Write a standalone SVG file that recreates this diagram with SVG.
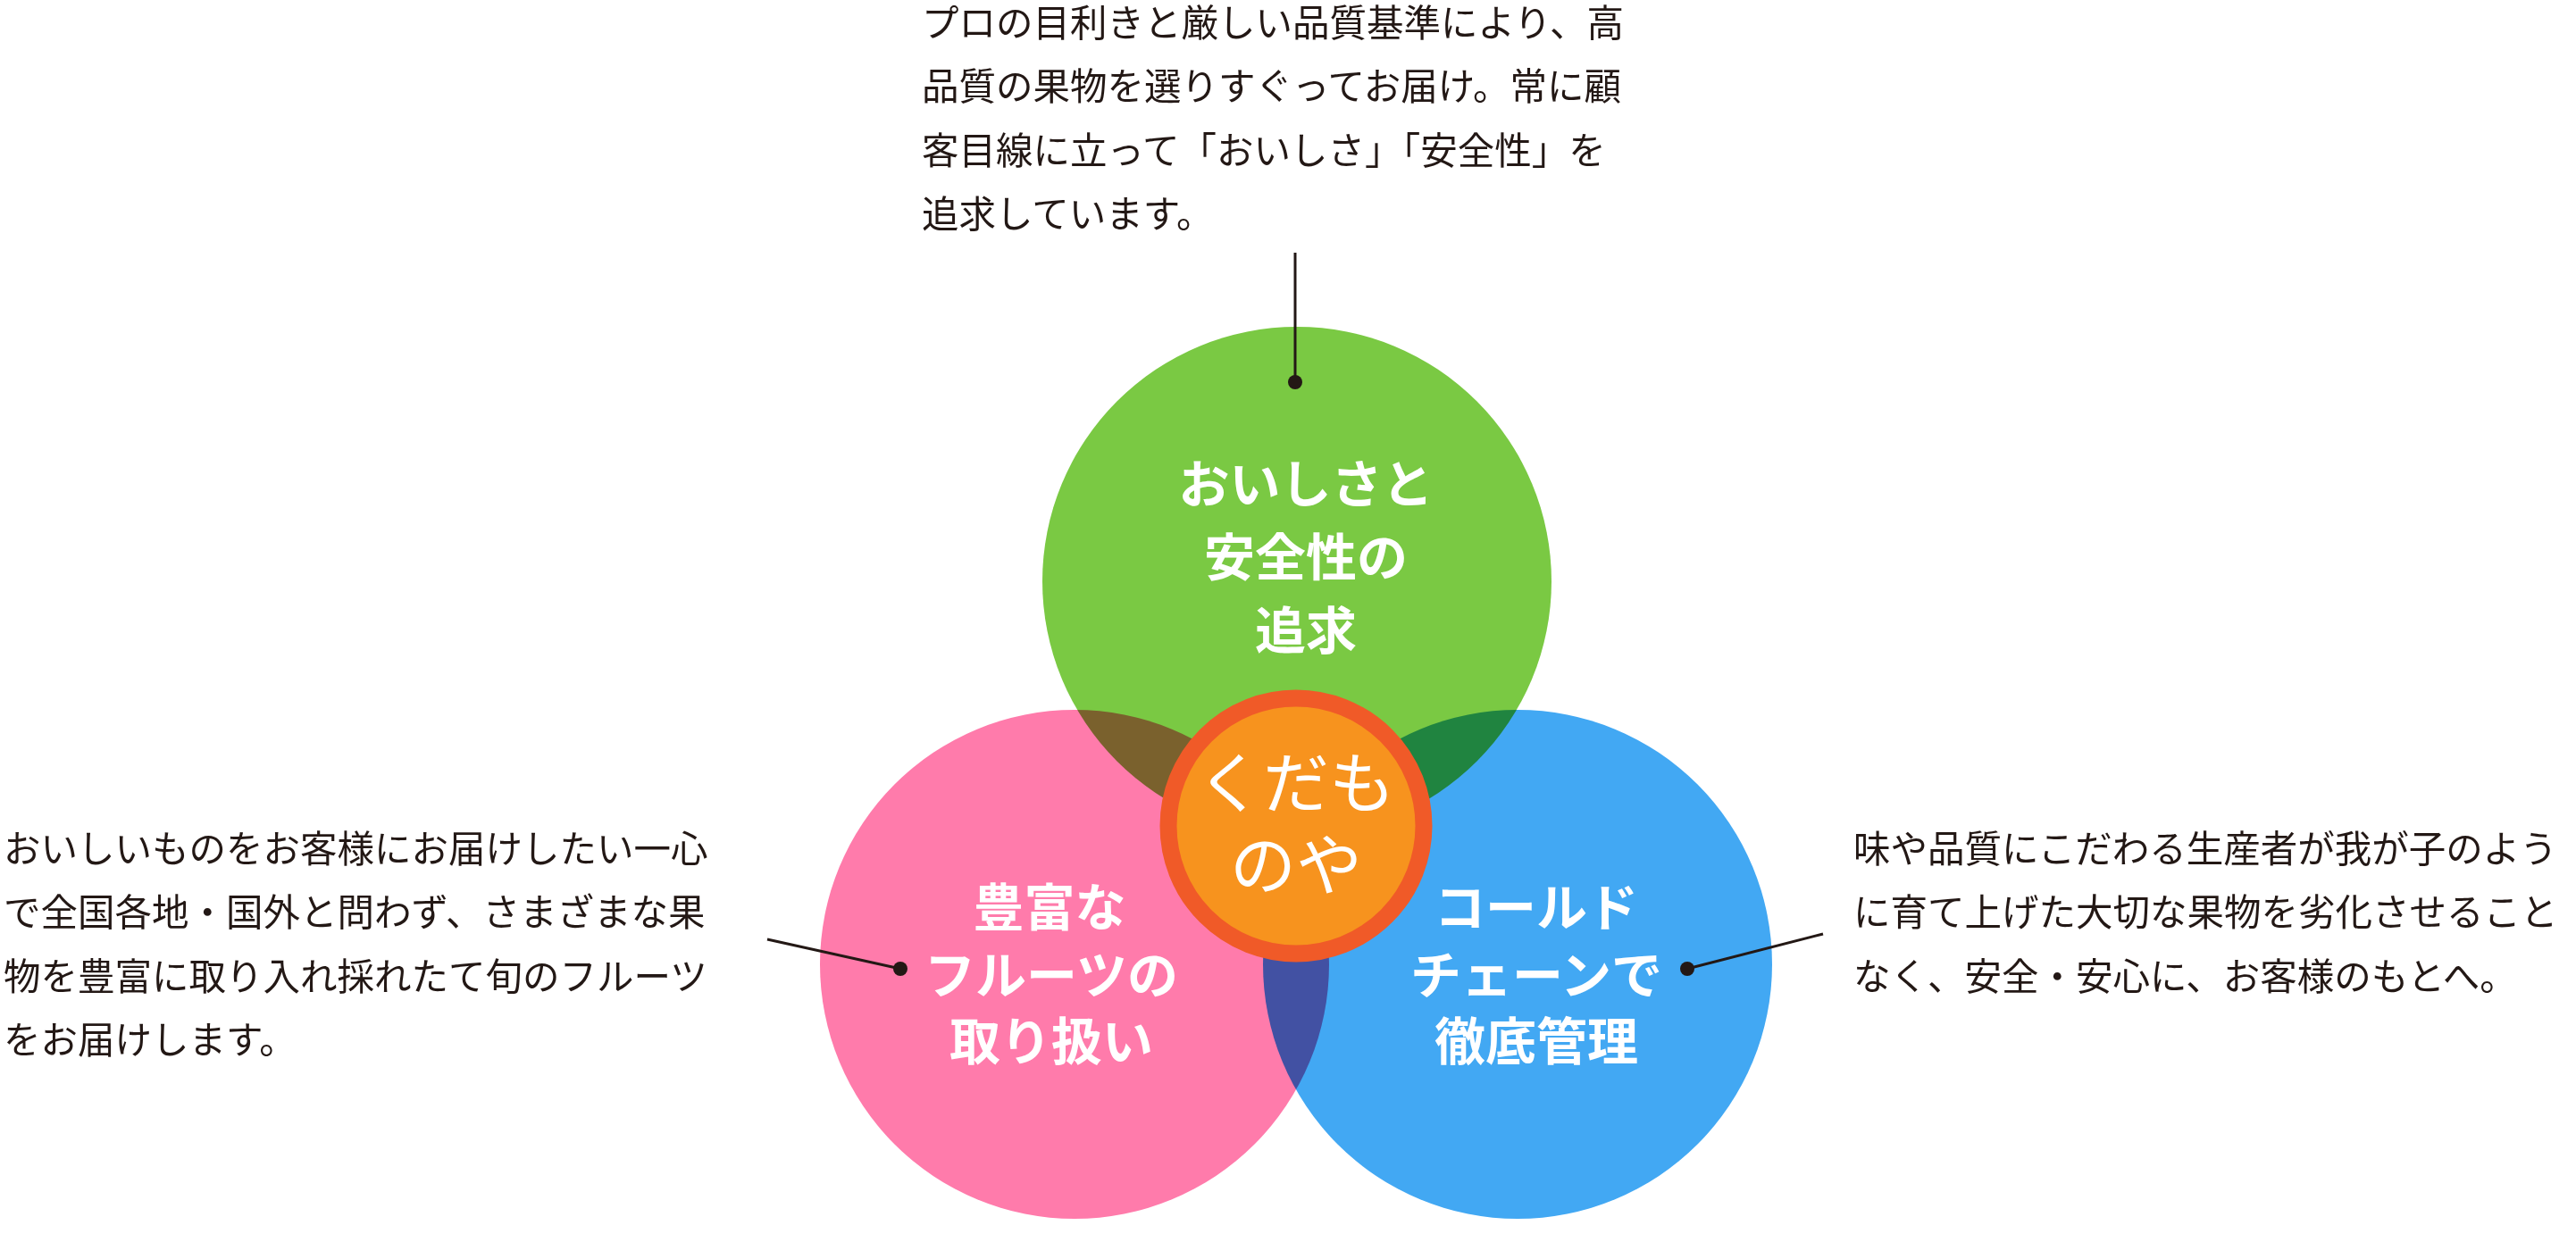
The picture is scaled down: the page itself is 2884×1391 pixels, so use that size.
<svg xmlns="http://www.w3.org/2000/svg" width="2884" height="1391" viewBox="0 0 2884 1391">
<style>
.c{mix-blend-mode:multiply}
.lbl{font-family:"Noto Sans CJK JP",sans-serif;font-weight:700;font-size:57px;fill:#fff;text-anchor:middle}
.d{font-family:"Noto Sans CJK JP",sans-serif;font-size:41.5px;fill:#231815}
.k{font-family:"Noto Sans CJK JP",sans-serif;font-size:74px;fill:#fff;text-anchor:middle}
</style>
<rect width="2884" height="1391" fill="#fff"/>
<g id="circles" style="isolation:isolate">
<circle id="green" class="c" cx="1452" cy="651" r="285" fill="#7ac943"/>
<circle id="pink" class="c" cx="1203" cy="1080" r="285" fill="#ff7bab"/>
<circle id="blue" class="c" cx="1699" cy="1080" r="285" fill="#42a8f3"/>
</g>
<g id="node-green"><text class="lbl" x="1462" y="563">おいしさと</text><text class="lbl" x="1462" y="645">安全性の</text><text class="lbl" x="1462" y="727">追求</text></g>
<g id="node-pink"><text class="lbl" x="1175" y="1037">豊富な</text><text class="lbl" x="1177" y="1113">フルーツの</text><text class="lbl" x="1177" y="1187">取り扱い</text></g>
<g id="node-blue"><text class="lbl" x="1720" y="1037">コールド</text><text class="lbl" x="1720" y="1113">チェーンで</text><text class="lbl" x="1720" y="1187">徹底管理</text></g>
<g id="center"><circle cx="1451" cy="925" r="143" fill="#f7931e" stroke="#f05a28" stroke-width="19"/><text class="k" x="1451" y="904">くだも</text><text class="k" x="1451" y="996">のや</text></g>
<g id="connectors" stroke="#231815" stroke-width="3" fill="#231815">
<line x1="1450" y1="283" x2="1450" y2="428"/><circle cx="1450" cy="428" r="8" stroke="none"/>
<line x1="859" y1="1052" x2="1008" y2="1085"/><circle cx="1008" cy="1085" r="8" stroke="none"/>
<line x1="2041" y1="1046" x2="1889" y2="1085"/><circle cx="1889" cy="1085" r="8" stroke="none"/>
</g>
<g id="text-top"><text class="d" x="1032" y="41">プロの目利きと厳しい品質基準により、高</text><text class="d" x="1032" y="112">品質の果物を選りすぐってお届け。常に顧</text><text class="d" x="1032" y="184">客目線に立って「おいしさ」「安全性」を</text><text class="d" x="1032" y="255">追求しています。</text></g>
<g id="text-left"><text class="d" x="4" y="966">おいしいものをお客様にお届けしたい一心</text><text class="d" x="4" y="1037">で全国各地・国外と問わず、さまざまな果</text><text class="d" x="4" y="1109">物を豊富に取り入れ採れたて旬のフルーツ</text><text class="d" x="4" y="1180">をお届けします。</text></g>
<g id="text-right"><text class="d" x="2075" y="966">味や品質にこだわる生産者が我が子のよう</text><text class="d" x="2075" y="1037">に育て上げた大切な果物を劣化させること</text><text class="d" x="2075" y="1109">なく、安全・安心に、お客様のもとへ。</text></g>
</svg>
